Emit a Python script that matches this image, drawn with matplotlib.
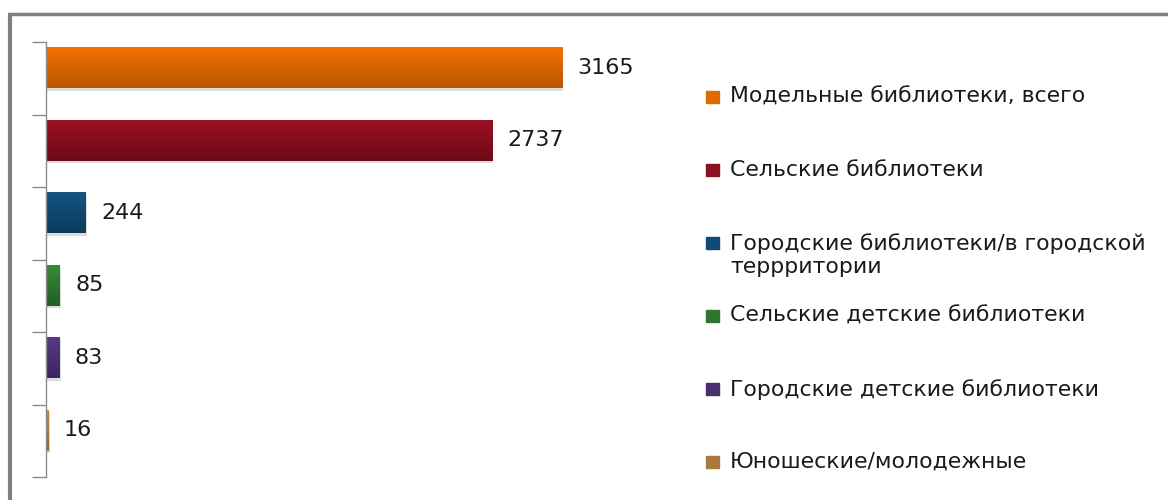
import matplotlib

matplotlib.use("Agg")
import matplotlib.pyplot as plt
import numpy as np
from matplotlib.colors import LinearSegmentedColormap
from matplotlib.lines import Line2D

categories = [
    "Модельные библиотеки, всего",
    "Сельские библиотеки",
    "Городские библиотеки/в городской\nтеррритории",
    "Сельские детские библиотеки",
    "Городские детские библиотеки",
    "Юношеские/молодежные",
]
values = [3165, 2737, 244, 85, 83, 16]
top_colors = ["#f27400", "#9c1122", "#155581", "#3a8a3a", "#5a3a86", "#bb8c4c"]
bottom_colors = ["#bc5400", "#6c0a17", "#0b3a5e", "#245e24", "#3d2460", "#8e6630"]
legend_colors = ["#e06a00", "#8c1020", "#0f4a75", "#2f7630", "#4a2e72", "#a87a40"]

plt.rcParams["font.family"] = ["DejaVu Sans"]

fig = plt.figure(figsize=(11.68, 5), dpi=100)
ax = fig.add_axes([46 / 1168, 1 - 477 / 500, (682 - 46) / 1168, (477 - 42) / 500])

n = len(values)
ypos = np.arange(n)[::-1] + 0.145  # bars sit a bit above the band centre
bar_h = 0.57
bars = ax.barh(ypos, values, height=bar_h, color="none", edgecolor="none")

# vertical gradient inside each bar
grad = np.linspace(0, 1, 64).reshape(-1, 1)
for bar, c_top, c_bot in zip(bars, top_colors, bottom_colors):
    x0, y0 = bar.get_x(), bar.get_y()
    w, h = bar.get_width(), bar.get_height()
    cmap = LinearSegmentedColormap.from_list("g", [c_bot, c_top])
    im = ax.imshow(grad, cmap=cmap, aspect="auto", origin="lower",
                   extent=(x0, x0 + w, y0, y0 + h), zorder=2)
    im.set_clip_path(bar)
    # soft shadow
    ax.add_patch(plt.Rectangle((x0 + 6, y0 - 0.035), w, h, color="#dcdcdc",
                               zorder=1, linewidth=0))

for y, v in zip(ypos, values):
    ax.annotate(str(v), (v, y), textcoords="offset points", xytext=(11, 0),
                va="center", ha="left", fontsize=16, color="#1a1a1a")

ax.set_xlim(0, 3900)
ax.set_ylim(-0.5, n - 0.5)
ax.set_xticks([])
ax.set_yticks(np.arange(-0.5, n, 1.0))
ax.set_yticklabels([])
ax.tick_params(axis="y", length=10, width=1, color="#8c8c8c")
for side in ["top", "right", "bottom"]:
    ax.spines[side].set_visible(False)
ax.spines["left"].set_color("#8c8c8c")
ax.spines["left"].set_linewidth(1)

# legend entries at Excel-like fixed spacing
for i, (label, col) in enumerate(zip(categories, legend_colors)):
    yc = 1 - (97 + 73 * i) / 500
    fig.patches.append(plt.Rectangle((706 / 1168, yc - 6 / 500), 13 / 1168, 12 / 500,
                                     transform=fig.transFigure, color=col, figure=fig))
    fig.text(730 / 1168, yc + 10 / 500, label, ha="left", va="top",
             fontsize=15.8, color="#1a1a1a", linespacing=1.2)

# outer frame
fig.add_artist(Line2D([8 / 1168, 1], [1 - 14 / 500, 1 - 14 / 500],
                      transform=fig.transFigure, color="#808080", linewidth=2.5,
                      solid_capstyle="butt"))
fig.add_artist(Line2D([10 / 1168, 10 / 1168], [0, 1 - 13 / 500],
                      transform=fig.transFigure, color="#808080", linewidth=3,
                      solid_capstyle="butt"))

fig.savefig("out.png", dpi=100)
plt.close(fig)
